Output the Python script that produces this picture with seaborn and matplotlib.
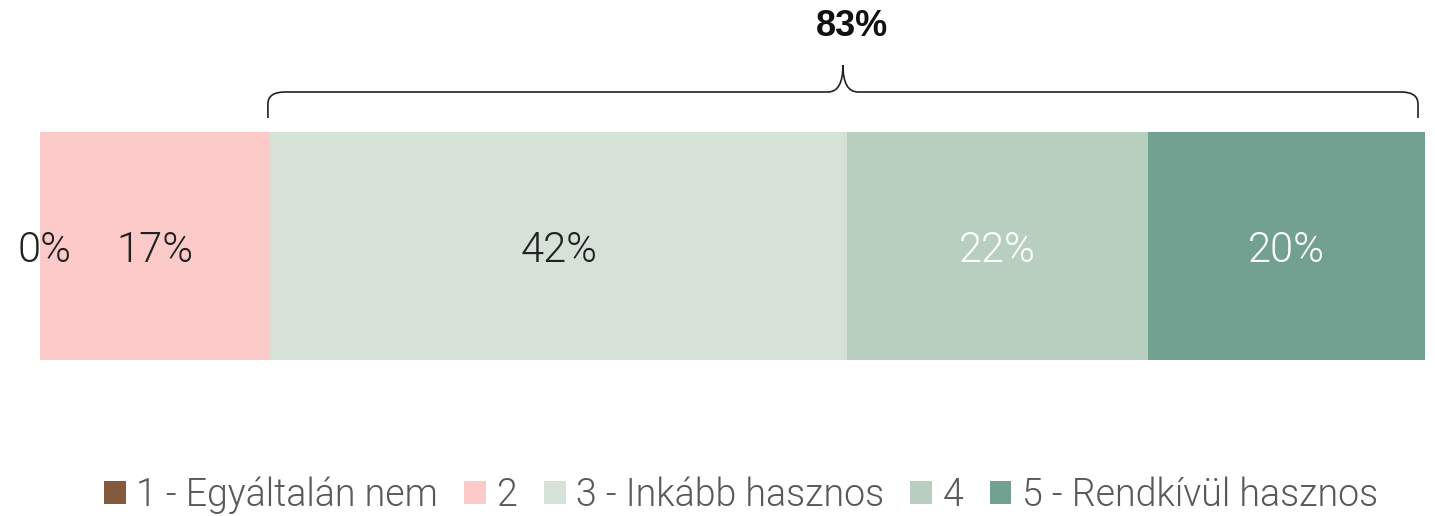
import numpy as np
import pandas as pd
import seaborn as sns
import matplotlib.pyplot as plt
from matplotlib import font_manager
from matplotlib.patches import Patch, PathPatch
from matplotlib.path import Path

# Adatok
kategoriak = ["1 - Egyáltalán nem", "2", "3 - Inkább hasznos", "4", "5 - Rendkívül hasznos"]
ertekek = [0.0, 16.6, 41.7, 21.7, 20.0]
szinek = ["#845A3E", "#FDCACA", "#D6E1D8", "#B8CFBF", "#72A091"]
cimke_szinek = ["#222222", "#222222", "#222222", "#FFFFFF", "#FFFFFF"]
osszesito = "83%"

sns.set_theme(style="white")
plt.rcParams['font.family'] = ['Roboto', 'DejaVu Sans']

# Roboto Light keresése
light = None
for f in font_manager.fontManager.ttflist:
    if f.name.startswith("Roboto") and "Light" in f.fname and "Italic" not in f.fname \
            and "Condensed" not in f.fname:
        light = f.fname
        break
print("light:", light)
print(sorted({(f.name, f.weight, f.fname.split('/')[-1]) for f in font_manager.fontManager.ttflist
              if f.name.startswith("Roboto")}))
if light:
    betu = font_manager.FontProperties(fname=light)
else:
    betu = font_manager.FontProperties(family=["Roboto", "DejaVu Sans"], weight="normal")

W, H = 1435, 516
fig = plt.figure(figsize=(W / 100, H / 100), dpi=100)
x_bal, x_jobb = 40, 1425
ax = fig.add_axes([x_bal / W, 0, (x_jobb - x_bal) / W, 1])

# kumulált oszlopok, a leghosszabbtól a legrövidebbig
kum = np.cumsum(ertekek)
df = pd.DataFrame({"sor": [""] * len(kategoriak), "kum": kum, "kat": kategoriak})
sns.barplot(data=df, x="kum", y="sor", hue="kat", hue_order=kategoriak[::-1],
            palette=dict(zip(kategoriak, szinek)), dodge=False, width=0.8,
            saturation=1, linewidth=0, orient="h", legend=False, ax=ax)

total = kum[-1]
ax.set_xlim(0, total)
# sáv: 132..360 px, 1 egység = 285 px
egys = 228 / 0.8
kozep = 246
ax.set_ylim((H - kozep) / egys, -kozep / egys)
ax.axis("off")

px = (x_jobb - x_bal) / total  # px per egység
eleje = np.concatenate([[0], kum[:-1]])
for i, v in enumerate(ertekek):
    cx = eleje[i] + v / 2
    if v == 0:
        cx += 5 / px
    ax.text(cx, 4 / egys, f"{round(v):.0f}%", ha="center", va="center",
            fontproperties=betu, fontsize=30, color=cimke_szinek[i])

# kapcsos zárójel
ov = fig.add_axes(ax.get_position())
ov.set_xlim(0, total)
ov.set_ylim(H, 0)
ov.axis("off")
xa = eleje[2] - 2 / px
xb = total - 7 / px
xm = (xa + xb) / 2
r = 17 / px
rm = 15 / px
y_al, y_vizsz, y_csucs = 118, 92, 65
verts = [(xa, y_al), (xa, y_vizsz + 12), (xa, y_vizsz), (xa + r, y_vizsz),
         (xm - rm, y_vizsz), (xm, y_vizsz), (xm, y_csucs),
         (xm, y_vizsz), (xm + rm, y_vizsz),
         (xb - r, y_vizsz), (xb, y_vizsz), (xb, y_vizsz + 12), (xb, y_al)]
codes = [Path.MOVETO, Path.LINETO, Path.CURVE3, Path.CURVE3,
         Path.LINETO, Path.CURVE3, Path.CURVE3,
         Path.CURVE3, Path.CURVE3,
         Path.LINETO, Path.CURVE3, Path.CURVE3, Path.LINETO]
ov.add_patch(PathPatch(Path(verts, codes), fill=False, lw=1.2, edgecolor="#222222"))
ov.text(xm + 9 / px, 26, osszesito, ha="center", va="center", fontsize=26,
        fontweight="bold", family=["Liberation Sans", "DejaVu Sans"], color="#111111")

# jelmagyarázat
leg_betu = betu.copy()
leg_betu.set_size(27)
handles = [Patch(facecolor=c, edgecolor="none") for c in szinek]
fig.legend(handles, kategoriak, loc="center", bbox_to_anchor=(741 / W, 1 - 495 / H),
           ncol=5, frameon=False, handlelength=0.58, handleheight=0.58,
           handletextpad=0.28, columnspacing=0.7, labelcolor="#595959", prop=leg_betu)

fig.savefig("out.png", dpi=100)
